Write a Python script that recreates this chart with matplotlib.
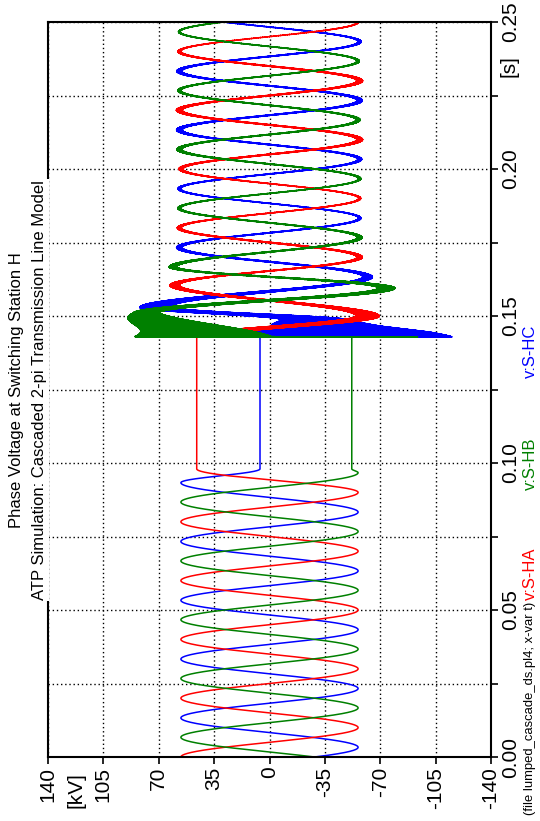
import numpy as np
import matplotlib
matplotlib.use('Agg')
from matplotlib import pyplot as plt

# ---- phase voltages at switching station H [kV] vs time [s] ----
# knots are the peaks/valleys of each trace, plus the points where the
# breaker opens (trapped charge) and recloses
sha_t = [0.000, 0.010, 0.020, 0.030, 0.040, 0.050, 0.060, 0.070, 0.080, 0.090,
         0.098, 0.1428,
         0.1500, 0.1605, 0.1700, 0.1800, 0.1900, 0.2000, 0.2100, 0.2200,
         0.2300, 0.2400, 0.2500]
sha_kv = [56, -56, 56, -56, 56, -56, 56, -56, 56, -56,
          46, 46,
          -62, 60, -57, 57, -57, 56, -57, 57,
          -57, 57, -56]

shb_t = [-0.0033, 0.0067, 0.0167, 0.0267, 0.0367, 0.0467, 0.0567, 0.0667,
         0.0767, 0.0867, 0.0967,
         0.098, 0.1428, 0.1430,
         0.1510, 0.1595, 0.1667, 0.1767, 0.1867, 0.1967, 0.2067, 0.2167,
         0.2267, 0.2367, 0.2467, 0.2567]
shb_kv = [-56, 56, -56, 56, -56, 56, -56, 56,
          -56, 56, -56,
          -52, -52, 42,
          78, -74, 61, -57, 57, -57, 57, -56,
          57, -56, 57, -56]

shc_t = [-0.0067, 0.0033, 0.0133, 0.0233, 0.0333, 0.0433, 0.0533, 0.0633,
         0.0733, 0.0833, 0.0933,
         0.098, 0.1428, 0.1429,
         0.1485, 0.1530, 0.1633, 0.1733, 0.1833, 0.1933, 0.2033, 0.2133,
         0.2233, 0.2333, 0.2433, 0.2533]
shc_kv = [56, -56, 56, -56, 56, -56, 56, -56,
          56, -56, 56,
          6, 6, -50,
          -30, 72, -62, 57, -57, 57, -57, 57,
          -57, 57, -57, 57]

# half width of the numerical ripple riding on each trace after reclosing
sha_rip_t = [0.1428, 0.148, 0.151, 0.155, 0.160, 0.165, 0.175, 0.185, 0.195, 0.205,
             0.235, 0.242, 0.250]
sha_rip = [10, 8, 7, 3, 3, 1.5, 1.8, 0.6, 0.6, 1.8, 1.8, 0.4, 0.3]
shb_rip_t = [0.1428, 0.1470, 0.1510, 0.155, 0.160, 0.165, 0.180, 0.195, 0.205, 0.250]
shb_rip = [44, 25, 8, 7, 5, 2.5, 1.2, 0.5, 1.5, 0.4]
shc_rip_t = [0.1428, 0.1445, 0.1465, 0.1485, 0.151, 0.155, 0.160, 0.165, 0.185,
             0.195, 0.215, 0.235, 0.250]
shc_rip = [66, 55, 35, 22, 12, 8, 4, 2.5, 0.6, 0.8, 1.8, 1.5, 0.4]

t_close = 0.1428
dt = 2e-5
t = np.arange(0.0, 0.25 + dt / 2, dt)


def trace(kt, kv, rt, rv):
    kt = np.asarray(kt)
    kv = np.asarray(kv, dtype=float)
    i = np.clip(np.searchsorted(kt, t, side='right') - 1, 0, len(kt) - 2)
    u = np.clip((t - kt[i]) / (kt[i + 1] - kt[i]), 0, 1)
    v = kv[i] + (kv[i + 1] - kv[i]) * (1 - np.cos(np.pi * u)) / 2
    # ripple flips sign every solution step
    env = np.interp(t, rt, rv, left=0, right=rv[-1])
    env[t < t_close] = 0
    sign = np.where(np.arange(len(t)) % 2 == 0, 1.0, -1.0)
    return v + env * sign


va = trace(sha_t, sha_kv, sha_rip_t, sha_rip)
vb = trace(shb_t, shb_kv, shb_rip_t, shb_rip)
vc = trace(shc_t, shc_kv, shc_rip_t, shc_rip)

plt.rcParams['font.family'] = ['Liberation Sans Narrow', 'Liberation Sans', 'DejaVu Sans']
regular = ['Liberation Sans', 'DejaVu Sans']

fig = plt.figure(figsize=(5.40, 8.21), dpi=100)
ax = fig.add_axes([48 / 540, 1 - 757 / 821, 443 / 540, 735 / 821])

# time runs up the page, voltage across it
ax.plot(vc, t, color='#0000ff', lw=1.1)
ax.plot(va, t, color='#ff0000', lw=1.1)
ax.plot(vb, t, color='#008000', lw=1.1)

ax.set_xlim(140, -140)
ax.set_ylim(0, 0.25)

kv_ticks = [140, 105, 70, 35, 0, -35, -70, -105, -140]
ax.set_xticks(kv_ticks)
ax.set_xticklabels([str(k) for k in kv_ticks], rotation=90, fontsize=15)
s_ticks = np.arange(0, 0.2501, 0.025)
ax.set_yticks(s_ticks)
ax.set_yticklabels(['%.2f' % s if i % 2 == 0 else '' for i, s in enumerate(s_ticks)],
                   rotation=90, va='center', fontsize=15)
ax.yaxis.tick_right()
ax.tick_params(direction='out', length=5, width=1.2, colors='black', pad=2)
ax.grid(True, color='black', linestyle=(0, (1, 2)), linewidth=1.0)
for sp in ax.spines.values():
    sp.set_linewidth(1.5)

ax.text(122.5, -15 / 735, '[kV]', transform=ax.get_xaxis_transform(), rotation=90,
        ha='center', va='top', fontsize=15)
ax.text(1.04, 0.235, '[s]', transform=ax.get_yaxis_transform(), rotation=90,
        ha='center', va='center', fontsize=15)

fig.text(17 / 540, 0.525, 'Phase Voltage at Switching Station H', rotation=90,
         ha='center', va='center', fontsize=12, family=regular)
fig.text(40 / 540, 0.525, 'ATP Simulation: Cascaded 2-pi Transmission Line Model',
         rotation=90, ha='center', va='center', fontsize=12, family=regular,
         bbox=dict(facecolor='white', edgecolor='none', pad=1))

# file name and trace legend along the bottom of the page
fig.text(530 / 540, 1 - 815 / 821, '(file lumped_cascade_ds.pl4; x-var t)',
         rotation=90, ha='center', va='bottom', fontsize=9.4, family=regular)
for name, col, ypx in [('v:S-HA', '#ff0000', 600), ('v:S-HB', '#008000', 490),
                       ('v:S-HC', '#0000ff', 378)]:
    fig.text(530 / 540, 1 - ypx / 821, name, rotation=90, ha='center', va='bottom',
             fontsize=12, color=col, family=regular)

fig.savefig('out.png', dpi=100)
